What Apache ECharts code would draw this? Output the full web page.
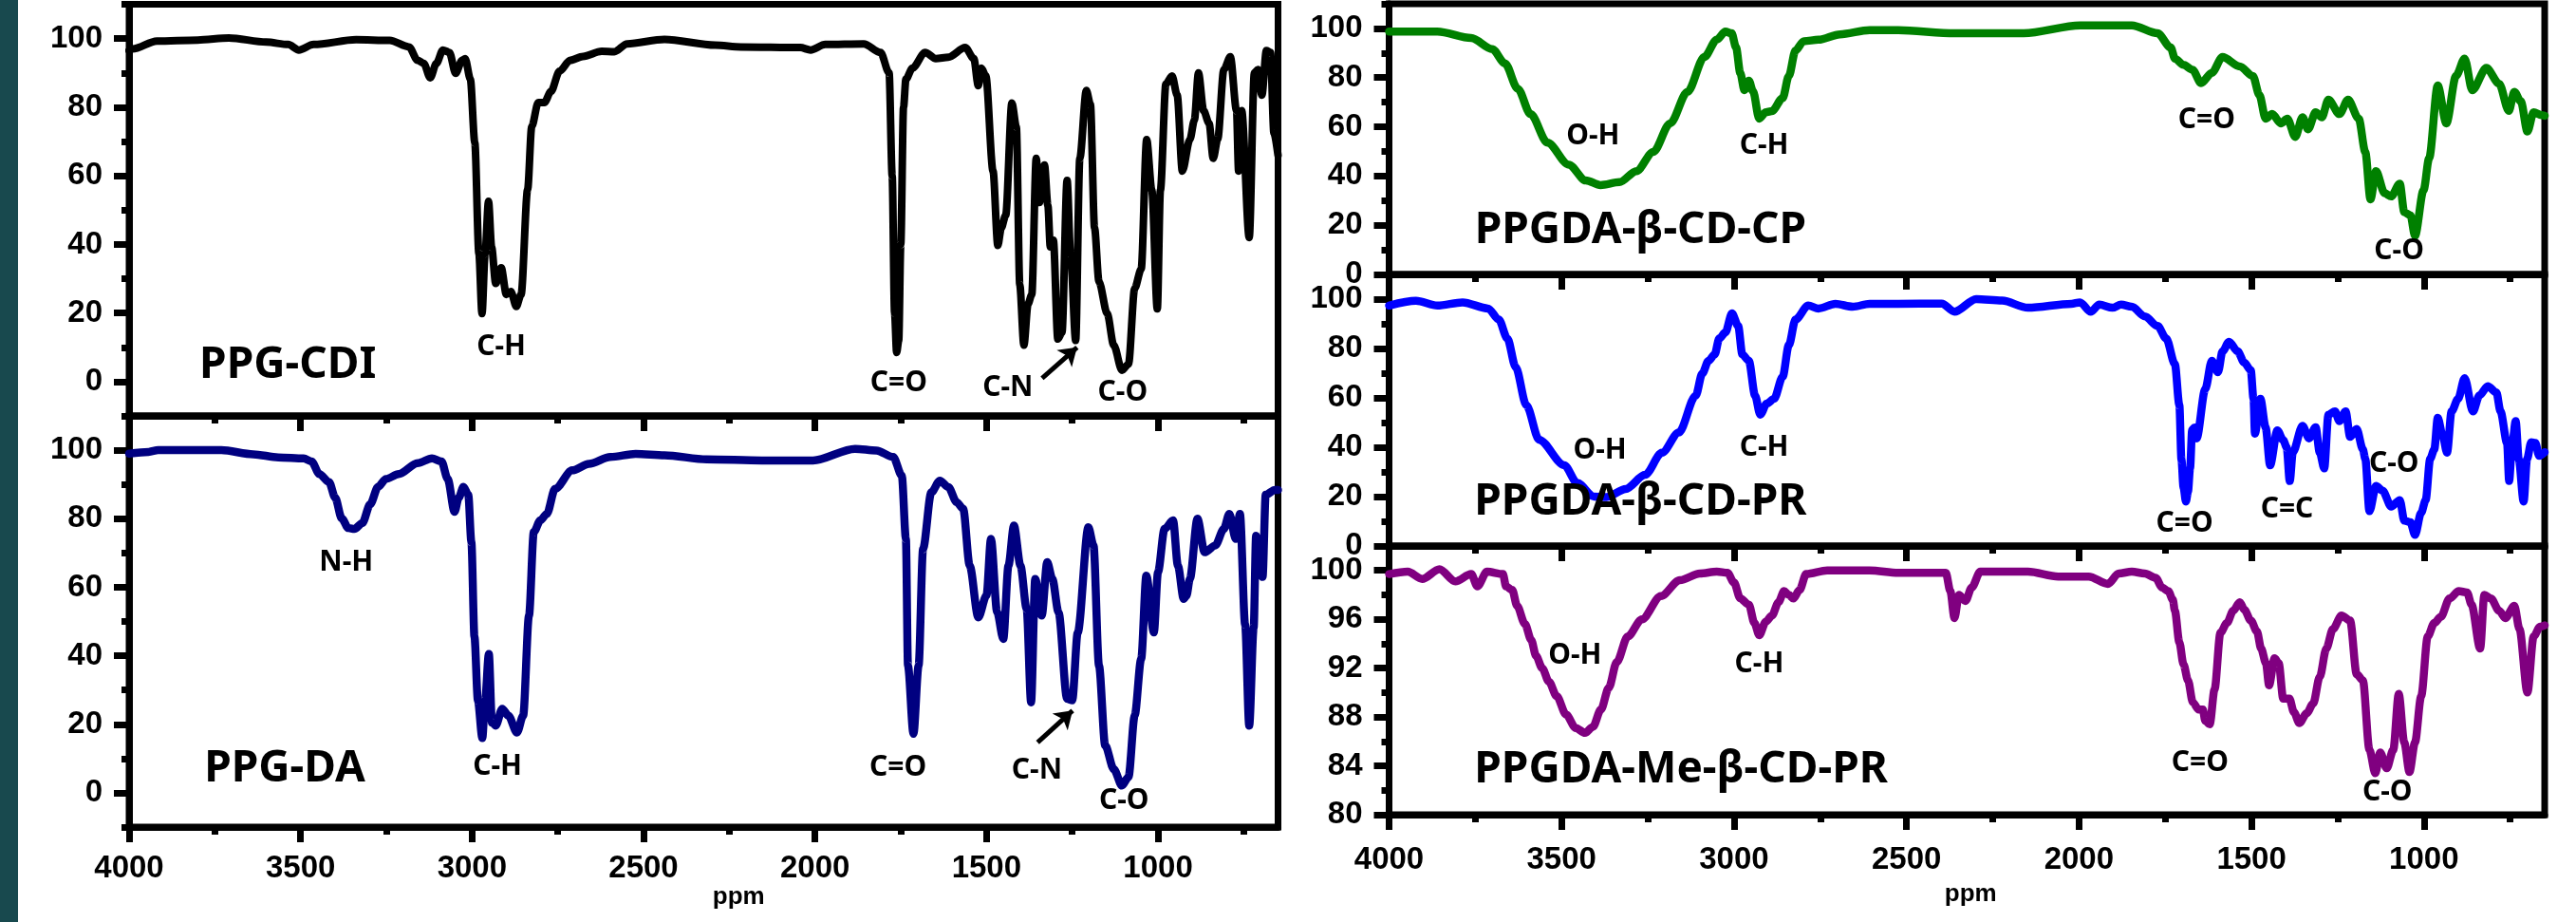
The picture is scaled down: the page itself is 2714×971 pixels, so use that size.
<!DOCTYPE html>
<html><head><meta charset="utf-8">
<script src="https://cdn.jsdelivr.net/npm/echarts@6/dist/echarts.min.js"></script>
<style>html,body{margin:0;padding:0;background:#fff}#c{width:2714px;height:971px}</style>
</head><body><div id="c"></div>
<script>
// ---------- tick values ----------
const wnMajor = [4000,3500,3000,2500,2000,1500,1000];
const wnMinor = [3750,3250,2750,2250,1750,1250,750];
const pctMajor = [0,20,40,60,80,100];
const pctMinorL = [-10,10,30,50,70,90,110];
const pctMinorR = [10,30,50,70,90,110];
const meMajor = [80,84,88,92,96,100];
const meMinor = [82,86,90,94,98,102];

// ---------- spectra [wavenumber, transmittance] ----------
const ppgCdi = [[4000,96.5],[3990,97],[3919,99.3],[3800,99.6],[3709,100.2],[3600,99],[3536,98.3],[3505,96.7],[3462,98.3],[3338,99.7],[3240,99.5],[3184,97.6],[3159,93.7],[3141,92.8],[3122,88.6],[3104,92.8],[3085,96.7],[3066,96.0],[3048,89.9],[3029,93.7],[3020,94.2],[3005,88.2],[2992,69.7],[2980,37.3],[2971,19.8],[2962,37.3],[2952,52.6],[2943,39.2],[2931,28.6],[2915,33.2],[2900,25.4],[2887,26.3],[2871,21.9],[2857,25.4],[2838,56],[2826,74.4],[2807,81.4],[2789,81.4],[2770,84.6],[2745,90.5],[2714,93.7],[2677,94.8],[2622,96.3],[2585,96.2],[2548,98.5],[2439,99.8],[2291,98.1],[2216,97.6],[2043,97.4],[2013,96.7],[1970,98.3],[1858,98.5],[1809,96],[1784,90],[1775,60],[1768,20],[1762,8.5],[1756,12],[1750,40],[1742,80],[1735,88.2],[1716,91.4],[1679,96],[1648,94.2],[1611,94.6],[1562,97.4],[1537,94.2],[1524,86.3],[1515,91.4],[1502,89.1],[1481,61.4],[1467,39.7],[1457,44.8],[1444,48.5],[1426,81.2],[1413,74.3],[1403,28.2],[1391,10.6],[1379,22.6],[1368,25.4],[1355,65.1],[1346,52.2],[1331,63.2],[1321,51.3],[1314,39.3],[1305,41.2],[1292,12.4],[1280,14.3],[1265,58.7],[1255,37.4],[1240,12],[1228,65.1],[1209,84.9],[1197,80.8],[1185,44.8],[1172,29.1],[1148,19.8],[1129,10.6],[1105,3.3],[1086,5.1],[1068,27.2],[1049,32.8],[1033,70.6],[1018,55.8],[1002,21.2],[993,55.8],[977,86.8],[959,89.1],[944,83.5],[929,61.4],[907,70.6],[894,76.2],[882,90],[867,79],[851,75.3],[839,65.1],[826,70.6],[808,91],[789,94.7],[771,79],[765,61.4],[756,79],[734,42],[719,90],[709,91],[697,83.5],[684,96.5],[672,96],[662,72.5],[650,66]];

const ppgDa = [[4000,99],[3943,99.5],[3915,100],[3731,100],[3638,98.8],[3565,97.9],[3491,97.6],[3468,96.7],[3445,93],[3417,90.7],[3399,86.1],[3380,80.1],[3361,77.3],[3343,77],[3320,78.7],[3297,84.2],[3274,89.3],[3251,91.6],[3214,93],[3159,96.2],[3117,97.6],[3089,96.7],[3071,91.6],[3051,82],[3039,86.1],[3025,89.3],[3011,87],[3002,73.2],[2993,45.5],[2983,27],[2970,16],[2962,27],[2951,40.5],[2942,20.5],[2931,19.6],[2912,24.5],[2894,22.5],[2869,17.6],[2851,22.5],[2834,51.7],[2820,76.1],[2801,79.5],[2782,81.4],[2758,88.7],[2708,94.1],[2659,96],[2597,98],[2523,98.9],[2439,98.5],[2316,97.3],[2155,97],[2006,97],[1883,100.4],[1821,99.9],[1772,98],[1747,92.6],[1735,74.1],[1729,37.1],[1713,17.2],[1698,37.1],[1685,71.2],[1661,87.7],[1636,91.1],[1611,89.2],[1587,84.8],[1568,82.9],[1549,66.3],[1524,51.2],[1500,57.6],[1487,74.1],[1469,52.7],[1451,44.9],[1436,66.3],[1420,78],[1401,66.3],[1383,53.7],[1370,26.4],[1358,62.4],[1339,51.7],[1323,67.3],[1308,62.4],[1290,52.7],[1265,27.4],[1250,27],[1234,46.8],[1203,77.5],[1188,72.2],[1172,37.1],[1154,13.8],[1129,6.9],[1105,2.1],[1086,4.6],[1068,22.5],[1049,39.1],[1034,63.4],[1012,46.8],[1000,64.4],[981,77],[956,79.5],[942,66.3],[925,56.6],[917,57.5],[907,62.4],[885,80],[864,70.2],[833,72.2],[808,77],[792,81.4],[773,74.1],[761,81.4],[746,49.1],[734,19.6],[721,48.2],[714,75],[705,70],[695,63],[686,87],[659,88.4],[650,88.4]];

const cdCp = [[4000,98.7],[3860,98.7],[3762,96.1],[3701,91.6],[3664,85.8],[3627,75.5],[3590,65.2],[3541,53.6],[3479,44.6],[3430,38.2],[3387,36.3],[3332,37.5],[3283,42],[3234,49.8],[3185,61.4],[3135,74.2],[3086,88.4],[3050,95.4],[3025,98.7],[3007,98],[2994,92.2],[2982,81.9],[2970,74.9],[2957,78.7],[2945,74.5],[2927,63.3],[2908,65.9],[2890,66.4],[2859,71.7],[2841,80.7],[2822,91],[2798,94.8],[2755,95.4],[2693,97.6],[2607,99.3],[2524,99.3],[2361,98],[2160,98],[1997,101.2],[1847,101.2],[1772,98],[1734,92.2],[1722,87.7],[1697,85.2],[1671,83.2],[1646,77.8],[1615,81.9],[1584,88.4],[1534,84.5],[1496,80.7],[1477,72.9],[1459,63.3],[1440,65.2],[1415,61.4],[1396,63.3],[1373,55.9],[1352,63.9],[1336,59],[1314,65.9],[1296,63.9],[1277,71],[1245,65.2],[1220,71],[1189,63.3],[1170,49.8],[1155,30.5],[1139,42],[1114,33],[1095,31.7],[1070,36.9],[1057,25.3],[1039,24],[1026,15.7],[1001,34.3],[985,47.2],[960,76.8],[935,61.4],[907,80.7],[882,87.7],[860,74.9],[819,83.9],[782,77.5],[754,66.5],[738,74.2],[719,70.3],[700,58.1],[682,65.9],[659,64.7],[650,64.5]];

const cdPr = [[4000,97.4],[3922,99.3],[3860,97.4],[3787,98.7],[3713,96.2],[3682,91.7],[3657,84],[3633,72.4],[3602,57],[3565,43],[3492,32.7],[3455,25.6],[3406,20],[3369,19.8],[3314,23.1],[3258,28.8],[3209,37.8],[3160,46],[3111,60.9],[3092,69.9],[3074,75],[3056,77.6],[3043,84],[3025,86.5],[3006,94.2],[2988,89.1],[2976,77.6],[2957,75],[2939,60.9],[2924,53.2],[2905,57.7],[2884,59.6],[2859,68.6],[2841,81.4],[2822,91.7],[2785,97.4],[2755,96.2],[2706,98.1],[2656,96.9],[2607,98.1],[2524,98.1],[2398,98.2],[2361,94.9],[2298,100],[2223,99.4],[2148,96.5],[2022,98.1],[1997,98.7],[1966,94.9],[1941,97.8],[1903,96.5],[1878,97.8],[1847,96.9],[1809,93],[1772,89.1],[1747,84],[1722,73.7],[1709,57],[1703,35],[1697,23.7],[1690,18],[1684,22],[1678,31.4],[1672,47],[1665,48],[1659,43.6],[1634,63.5],[1615,75],[1597,70.4],[1584,78.8],[1565,82.7],[1540,78.8],[1521,74.3],[1502,71.2],[1494,59.6],[1490,45.5],[1474,59.6],[1459,48.1],[1446,32.7],[1425,46.8],[1408,42.9],[1398,40],[1389,26.3],[1380,38],[1352,48.7],[1333,43.6],[1314,48.1],[1302,37.8],[1289,31.4],[1277,53.2],[1258,54.5],[1245,50.6],[1227,54.5],[1214,44.2],[1195,47.4],[1177,39.1],[1170,35.3],[1158,14.1],[1139,24.3],[1120,22.4],[1095,16],[1070,18.6],[1057,10.3],[1039,9.6],[1026,4.5],[1008,13.5],[995,18.6],[982,35.3],[970,39.1],[960,51.9],[945,44.2],[933,37.8],[920,54.5],[901,59.6],[882,68],[858,54.5],[839,61],[815,64.7],[790,62.2],[778,54.5],[759,41.7],[753,26.3],[745,40],[734,50.6],[725,35],[711,18],[701,35.3],[689,42],[677,41.7],[666,36.5],[650,38]];

const meCdPr = [[4000,99.7],[3946,99.9],[3904,99.3],[3854,100.1],[3808,99.1],[3762,99.7],[3744,98.7],[3716,99.9],[3670,99.7],[3661,98.7],[3643,98.4],[3629,97.1],[3606,95.6],[3588,94.3],[3574,93],[3556,92],[3537,90.9],[3514,89.7],[3487,88.2],[3459,87.1],[3432,86.7],[3409,87.2],[3386,88.6],[3363,90.4],[3340,92.5],[3308,94.6],[3267,96],[3212,97.9],[3157,99.2],[3099,99.75],[3050,99.9],[3019,99.8],[3000,99],[2982,97.7],[2957,97.2],[2941,95.7],[2927,94.7],[2908,95.8],[2890,96.3],[2871,97.4],[2855,98.3],[2841,98],[2828,97.7],[2810,98.4],[2791,99.7],[2730,100],[2607,100],[2524,99.8],[2386,99.8],[2373,98.3],[2361,96.1],[2348,98],[2329,97.5],[2311,98.6],[2286,99.9],[2148,99.9],[2060,99.5],[1972,99.5],[1916,98.9],[1885,99.75],[1847,99.9],[1809,99.75],[1778,99.4],[1759,98.6],[1741,98.3],[1728,97.6],[1722,96.7],[1709,94.1],[1697,92.3],[1684,91],[1670,89.2],[1653,88.6],[1641,88.6],[1634,87.7],[1621,87.4],[1607,90.25],[1590,94.9],[1571,95.7],[1553,96.7],[1534,97.4],[1521,96.8],[1502,95.9],[1484,95],[1472,93.6],[1458,92.4],[1449,90.6],[1433,92.8],[1421,92.4],[1408,89.5],[1390,89.5],[1377,88.4],[1361,87.5],[1340,88.3],[1321,89.1],[1302,91.3],[1283,93.6],[1264,95.2],[1239,96.3],[1214,95.9],[1195,91.5],[1177,91],[1158,85.3],[1141,83.4],[1127,85.1],[1108,83.8],[1089,85.3],[1073,89.9],[1057,85.9],[1042,83.5],[1026,85.9],[1008,89.7],[989,94.6],[970,95.7],[951,96.2],[926,97.7],[899,98.3],[875,98.2],[862,97.2],[837,93.6],[825,98],[806,97.7],[782,96.7],[764,96.1],[738,97.1],[723,95.2],[700,90],[682,94.6],[663,95.4],[650,95.5]];

// ---------- annotations [wavenumber, value, text] ----------
const cdiNotes = [[2915,10.2,'C-H'],[1756,-0.4,'C=O'],[1438,-1.7,'C-N'],[1103,-3.1,'C-O']];
const cdiTitle = [[3795,4.6,'PPG-CDI']];
const cdiArrow = [[1338,1.0],[1236,10.0]];
const daNotes = [[3367,67.3,'N-H'],[2926,7.5,'C-H'],[1758,7.2,'C=O'],[1353,6.4,'C-N'],[1099,-2.5,'C-O']];
const daTitle = [[3781,6.95,'PPG-DA']];
const daArrow = [[1351,14.7],[1249,24.0]];
const cpNotes = [[3409,56.3,'O-H'],[2913,52.4,'C-H'],[1630,62.6,'C=O'],[1072,9.6,'C-O']];
const cpTitle = [[3752,17.7,'PPGDA-β-CD-CP']];
const prNotes = [[3389,38.8,'O-H'],[2913,40,'C-H'],[1694,9.2,'C=O'],[1397,15,'C=C'],[1087,33.1,'C-O']];
const prTitle = [[3753,17.7,'PPGDA-β-CD-PR']];
const meNotes = [[3461,93.05,'O-H'],[2927,92.3,'C-H'],[1649,84.26,'C=O'],[1106,81.8,'C-O']];
const meTitle = [[3753,83.7,'PPGDA-Me-β-CD-PR']];

// ---------- build ----------
const chart = echarts.init(document.getElementById('c'), null, {renderer:'canvas', width:2714, height:971});
const TICKFONT = {fontFamily:'Liberation Sans', fontWeight:'bold', fontSize:33, color:'#000', formatter: v => String(v)};
const BLACK = '#000';
const gridDefs = [
  {left:136, top:4.6, width:1210.5, height:433.4},
  {left:136, top:438, width:1210.5, height:433},
  {left:1463.5, top:4, width:1217.5, height:285},
  {left:1463.5, top:289, width:1217.5, height:286},
  {left:1463.5, top:575, width:1217.5, height:283}
];
const yDefs = [
  [-10,110,pctMajor,pctMinorL],
  [-10,110,pctMajor,pctMinorL],
  [0,110,pctMajor,pctMinorR],
  [0,110,pctMajor,pctMinorR],
  [80,102,meMajor,meMinor]
];
const xLab = [null, {margin:27, gap:58, pad:74}, null, null, {margin:31, gap:71, pad:8}];

const grid = gridDefs.map(g => Object.assign({show:true, borderColor:BLACK, borderWidth:7, backgroundColor:'transparent', containLabel:false, outerBoundsMode:'none'}, g));
const xAxis = [], yAxis = [];
gridDefs.forEach((g, i) => {
  const lab = xLab[i];
  xAxis.push({
    type:'value', gridIndex:i, min:650, max:4000, inverse:true, position:'bottom',
    axisLine:{show:true, onZero:false, lineStyle:{color:BLACK, width:7}},
    axisTick:{show:true, inside:false, length:16, customValues:wnMajor, lineStyle:{color:BLACK, width:7}},
    axisLabel:Object.assign({show:!!lab, customValues:wnMajor, margin: lab ? lab.margin : 8}, TICKFONT),
    splitLine:{show:false},
    name: lab ? 'ppm' : '', nameLocation:'middle', nameGap: lab ? lab.gap : 0,
    nameTextStyle:{fontFamily:'Liberation Sans', fontWeight:'bold', fontSize:26, color:BLACK, padding:[0,0,0, lab ? lab.pad : 0]}
  });
  xAxis.push({
    type:'value', gridIndex:i, min:650, max:4000, inverse:true, position:'bottom',
    axisLine:{show:false, onZero:false},
    axisTick:{show:true, inside:false, length:8, customValues:wnMinor, lineStyle:{color:BLACK, width:7}},
    axisLabel:{show:false}, splitLine:{show:false}
  });
  const y = yDefs[i];
  yAxis.push({
    type:'value', gridIndex:i, min:y[0], max:y[1], position:'left',
    axisLine:{show:true, onZero:false, lineStyle:{color:BLACK, width:7}},
    axisTick:{show:true, inside:false, length:16, customValues:y[2], lineStyle:{color:BLACK, width:7}},
    axisLabel:Object.assign({show:true, customValues:y[2], margin:28}, TICKFONT),
    splitLine:{show:false}
  });
  yAxis.push({
    type:'value', gridIndex:i, min:y[0], max:y[1], position:'left',
    axisLine:{show:false, onZero:false},
    axisTick:{show:true, inside:false, length:8, customValues:y[3], lineStyle:{color:BLACK, width:7}},
    axisLabel:{show:false}, splitLine:{show:false}
  });
});

function spec(i, data, color, width) {
  return {type:'line', xAxisIndex:2*i, yAxisIndex:2*i, data, showSymbol:false, symbol:'none',
    smooth:0.3, smoothMonotone:'x',
    lineStyle:{color, width, cap:'round', join:'round'}, silent:true, z:3};
}
function notes(i, arr, size, align) {
  return {type:'scatter', xAxisIndex:2*i, yAxisIndex:2*i, symbolSize:0, silent:true, z:6,
    itemStyle:{color:'rgba(0,0,0,0)', opacity:1},
    data: arr.map(n => ({value:[n[0], n[1]], name:n[2]})),
    label:{show:true, position:[0,0], align, verticalAlign:'middle', formatter:p => p.name,
      fontFamily:'Noto Sans', fontWeight:'bold', fontSize:size, color:BLACK, opacity:1}};
}
function arrow(i, pts) {
  return {type:'lines', coordinateSystem:'cartesian2d', xAxisIndex:2*i, yAxisIndex:2*i, silent:true, z:6,
    symbol:['none','arrow'], symbolSize:18,
    lineStyle:{color:BLACK, width:5, opacity:1, curveness:0},
    data:[{coords:pts}]};
}

const series = [
  spec(0, ppgCdi, '#000000', 8),
  spec(1, ppgDa, '#000080', 8.5),
  spec(2, cdCp, '#008000', 8.5),
  spec(3, cdPr, '#0000ff', 8.5),
  spec(4, meCdPr, '#800080', 8.5),
  notes(0, cdiNotes, 30, 'center'), notes(0, cdiTitle, 46, 'left'),
  notes(1, daNotes, 30, 'center'), notes(1, daTitle, 46, 'left'),
  notes(2, cpNotes, 30, 'center'), notes(2, cpTitle, 46, 'left'),
  notes(3, prNotes, 30, 'center'), notes(3, prTitle, 46, 'left'),
  notes(4, meNotes, 30, 'center'), notes(4, meTitle, 46, 'left'),
  arrow(0, cdiArrow), arrow(1, daArrow)
];

chart.setOption({
  animation:false,
  backgroundColor:'#ffffff',
  grid, xAxis, yAxis, series,
  graphic:[{type:'rect', left:0, top:0, shape:{width:19, height:971}, style:{fill:'#18494e'}, silent:true}]
});
</script>
</body></html>
